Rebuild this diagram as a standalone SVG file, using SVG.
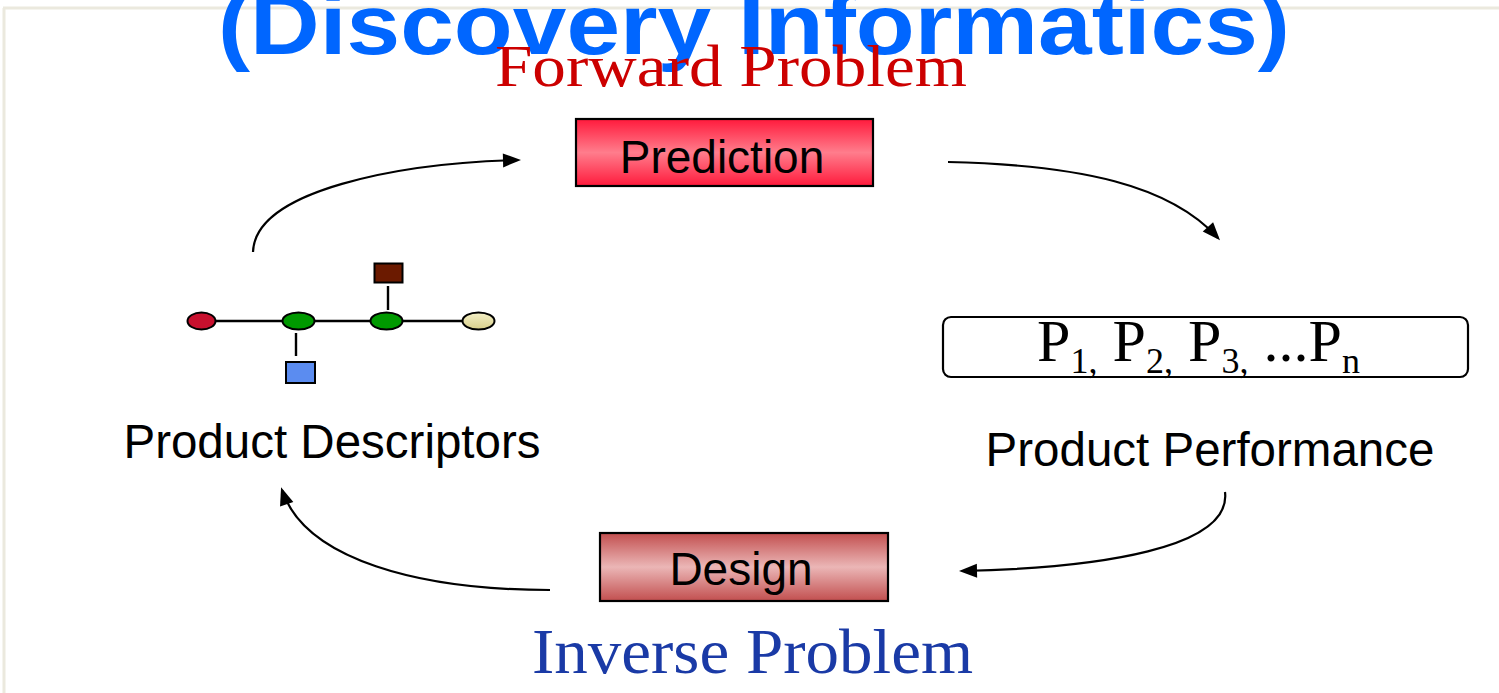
<svg xmlns="http://www.w3.org/2000/svg" width="1499" height="693" viewBox="0 0 1499 693">
  <style>
    .sans { font-family: "Liberation Sans", Arial, sans-serif; }
    .serif { font-family: "Liberation Serif", "Times New Roman", serif; }
    .conn { fill: none; stroke: #000; stroke-width: 2.2; }
    .bond { stroke: #000; stroke-width: 2.4; }
    .atom { stroke: #000; stroke-width: 2; }
  </style>
  <defs>
    <linearGradient id="gradPred" x1="0" y1="0" x2="0" y2="1">
      <stop offset="0" stop-color="#ff1a3c"/>
      <stop offset="0.5" stop-color="#ff7d8c"/>
      <stop offset="1" stop-color="#ff1a3c"/>
    </linearGradient>
    <linearGradient id="gradDesign" x1="0" y1="0" x2="0" y2="1">
      <stop offset="0" stop-color="#c24f4f"/>
      <stop offset="0.5" stop-color="#ebb6b6"/>
      <stop offset="1" stop-color="#c24f4f"/>
    </linearGradient>
    <linearGradient id="gradCream" x1="0" y1="0" x2="0" y2="1">
      <stop offset="0" stop-color="#f4f0c8"/>
      <stop offset="1" stop-color="#d8cf8a"/>
    </linearGradient>
    <marker id="arrow" viewBox="0 0 18 14" refX="15" refY="7" markerWidth="18" markerHeight="14" markerUnits="userSpaceOnUse" orient="auto" overflow="visible">
      <path d="M0,0 L18,7 L0,14 z" fill="#000"/>
    </marker>
  </defs>

  <rect x="0" y="0" width="1499" height="693" fill="#ffffff"/>

  <!-- frame lines -->
  <line x1="3" y1="8" x2="1499" y2="8" stroke="#ebe9de" stroke-width="3"/>
  <line x1="4" y1="8" x2="4" y2="693" stroke="#ebe9de" stroke-width="3"/>

  <!-- heading -->
  <text id="title" class="sans" x="218" y="54" font-size="86" font-weight="bold" fill="#0066ff" textLength="1072" lengthAdjust="spacingAndGlyphs">(Discovery Informatics)</text>

  <text id="forward-label" class="serif" x="495" y="86" font-size="60" fill="#cc0000" textLength="472" lengthAdjust="spacingAndGlyphs">Forward Problem</text>

  <!-- connectors -->
  <g id="connectors">
    <path class="conn" d="M253,252 C255,190 400,163 518,160" marker-end="url(#arrow)"/>
    <path class="conn" d="M948,162 C1080,165 1170,185 1218,238" marker-end="url(#arrow)"/>
    <path class="conn" d="M1225,492 C1232,548 1100,568 962,571" marker-end="url(#arrow)"/>
    <path class="conn" d="M550,590 C420,590 305,560 282,490" marker-end="url(#arrow)"/>
  </g>

  <g id="prediction">
    <rect x="576" y="119" width="297" height="67" fill="url(#gradPred)" stroke="#000" stroke-width="2.2"/>
    <text class="sans" x="722" y="173" font-size="46" text-anchor="middle" fill="#000">Prediction</text>
  </g>

  <g id="performance-values">
    <rect x="943" y="317" width="525" height="60" rx="8" fill="#fff" stroke="#000" stroke-width="2.2"/>
    <text class="serif" x="1037" y="361" font-size="60" fill="#000" textLength="323" lengthAdjust="spacing">P<tspan dy="12" font-size="36">1,</tspan><tspan dy="-12"> P</tspan><tspan dy="12" font-size="36">2,</tspan><tspan dy="-12"> P</tspan><tspan dy="12" font-size="36">3,</tspan><tspan dy="-12"> ...P</tspan><tspan dy="12" font-size="36">n</tspan></text>
  </g>

  <g id="product-performance">
    <text class="sans" x="1210" y="466" font-size="47.5" text-anchor="middle" fill="#000">Product Performance</text>
  </g>

  <g id="design">
    <rect x="600" y="533" width="288" height="68" fill="url(#gradDesign)" stroke="#000" stroke-width="2.2"/>
    <text class="sans" x="741" y="585" font-size="46" text-anchor="middle" fill="#000">Design</text>
  </g>

  <g id="inverse-label">
    <text class="serif" x="532" y="673" font-size="64" fill="#1a3aa6" textLength="441" lengthAdjust="spacingAndGlyphs">Inverse Problem</text>
  </g>

  <g id="product-descriptors">
    <text class="sans" x="332" y="458" font-size="47.5" text-anchor="middle" fill="#000">Product Descriptors</text>
  </g>

  <!-- molecule sketch -->
  <g id="molecule">
    <line class="bond" x1="216" y1="321" x2="282" y2="321"/>
    <line class="bond" x1="315" y1="321" x2="370" y2="321"/>
    <line class="bond" x1="403" y1="321" x2="462" y2="321"/>
    <line class="bond" x1="388" y1="286" x2="388" y2="310"/>
    <line class="bond" x1="296" y1="333" x2="296" y2="356"/>
    <ellipse class="atom" cx="201.5" cy="321" rx="14" ry="8.5" fill="#c8102e"/>
    <ellipse class="atom" cx="298.5" cy="321" rx="16" ry="8.5" fill="#009900"/>
    <ellipse class="atom" cx="386.5" cy="321" rx="16" ry="8.5" fill="#009900"/>
    <ellipse class="atom" cx="478.5" cy="321" rx="16" ry="8.5" fill="url(#gradCream)"/>
    <rect class="atom" x="374.5" y="263.5" width="28" height="19" fill="#6b1a00"/>
    <rect class="atom" x="286" y="362" width="29" height="21" fill="#5b8cf0"/>
  </g>
</svg>
